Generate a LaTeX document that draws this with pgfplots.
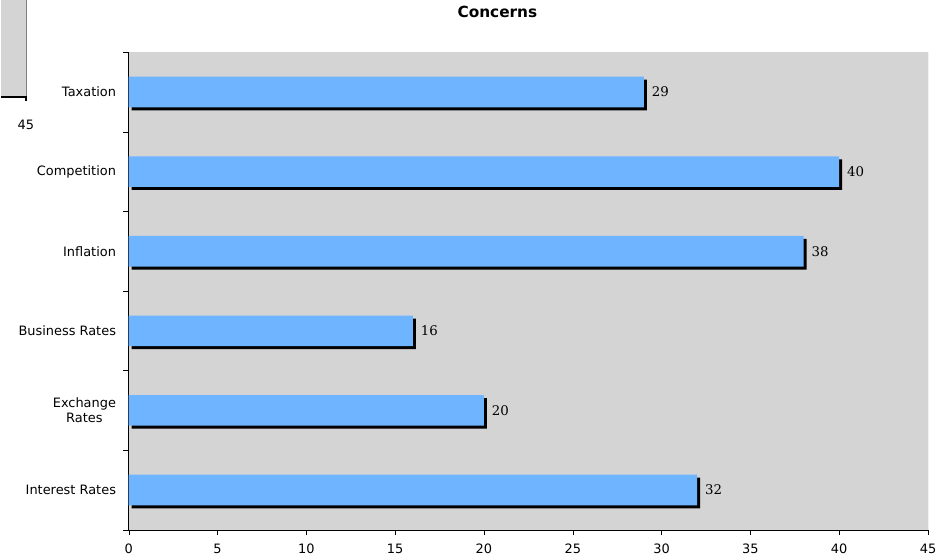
\documentclass[border=0pt]{standalone}
\usepackage{fontspec}
\setmainfont{DejaVu Sans}
\newfontfamily\valfont{DejaVu Serif}
\usepackage{pgfplots}
\pgfplotsset{compat=1.18}
\usetikzlibrary{shadows}
\definecolor{barblue}{RGB}{111,180,255}
\definecolor{plotgray}{RGB}{212,212,212}

\begin{document}
\begin{tikzpicture}
% page size: 952 x 558 px at 0.75pt per px
\path (-96pt,-21pt) rectangle (618pt,397.5pt);
% cut-off piece of the neighbouring chart
\fill[plotgray] (-96pt,324.75pt) rectangle (-77.25pt,397.5pt);
\draw[gray] (-77.25pt,324.75pt) -- (-77.25pt,397.5pt);
\draw[black, line width=1.2pt] (-96pt,324.75pt) -- (-77.25pt,324.75pt) -- ++(0,-3pt);
\node[font=\fontsize{9.7}{11}\selectfont] at (-77.25pt,304pt) {45};

\begin{axis}[
  at={(0,0)}, anchor=south west, scale only axis,
  width=600pt, height=358.5pt,
  xbar, bar width=23pt,
  xmin=0, xmax=45, ymin=-0.5, ymax=5.5,
  axis background/.style={fill=plotgray},
  axis x line*=bottom, axis y line*=left,
  axis line style={-, black},
  tick align=outside, major tick length=4pt,
  tick style={black},
  xtick={0,5,...,45},
  ytick={-0.5,0.5,...,5.5}, yticklabels={},
  extra y ticks={0,1,2,3,4,5},
  extra y tick labels={Interest Rates,{Exchange\\Rates},Business Rates,Inflation,Competition,Taxation},
  extra y tick style={major tick length=0pt},
  tick label style={font=\fontsize{9.7}{11}\selectfont},
  /pgf/number format/assume math mode=true,
  yticklabel style={align=center, xshift=-6pt},
  xticklabel style={yshift=-3pt},
  nodes near coords={\valfont\pgfmathprintnumber{\pgfplotspointmeta}},
  every node near coord/.append style={font=\fontsize{10}{11}\selectfont, xshift=2.5pt, black},
]
\addplot[fill=barblue, draw=none,
  drop shadow={shadow xshift=2.25pt, shadow yshift=-2.25pt, opacity=1, fill=black}]
  coordinates {(32,0) (20,1) (16,2) (38,3) (40,4) (29,5)};
\draw[gray!80] (rel axis cs:1,0) -- (rel axis cs:1,1);
\end{axis}

\node[font=\bfseries\fontsize{11.5}{13}\selectfont] at (276.75pt,388.5pt) {Concerns};
\end{tikzpicture}
\end{document}
